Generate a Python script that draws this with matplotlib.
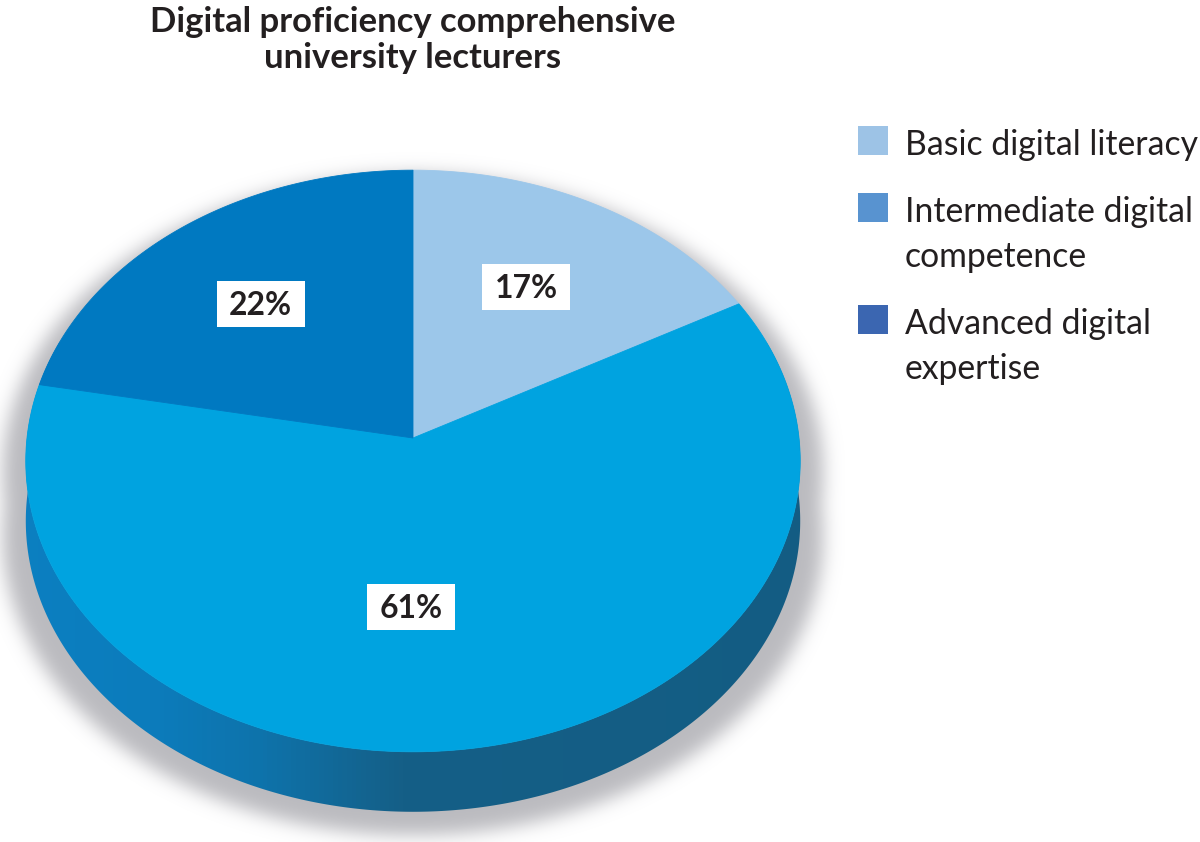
import numpy as np
import matplotlib
matplotlib.use("Agg")
import matplotlib.pyplot as plt
from matplotlib.patches import Polygon, Rectangle
from matplotlib.path import Path
from matplotlib.colors import LinearSegmentedColormap, to_rgb

# ---------------- data ----------------
title_lines = ["Digital proficiency comprehensive", "university lecturers"]
categories = ["Basic digital literacy", "Intermediate digital competence", "Advanced digital expertise"]
legend_lines = [["Basic digital literacy"], ["Intermediate digital", "competence"], ["Advanced digital", "expertise"]]
shares = [17, 61, 22]
value_labels = ["17%", "61%", "22%"]

# ---------------- style ----------------
legend_colors = ["#9dc3e6", "#5893d0", "#3b66b1"]
face_colors = ["#9cc7ea", "#00a3e0", "#0079c1"]
FONT = ["Lato", "DejaVu Sans"]

W, H = 1200, 842
fig = plt.figure(figsize=(12, 8.42), dpi=100)
ax = fig.add_axes([0, 0, 1, 1])
ax.set_xlim(0, W)
ax.set_ylim(H, 0)
ax.axis("off")
renderer = fig.canvas.get_renderer()


def fit_size(text, target_px, weight="normal"):
    t = fig.text(0, 0, text, fontsize=20, fontweight=weight, family=FONT)
    w = t.get_window_extent(renderer).width
    t.remove()
    return 20 * target_px / w


# perspective pie geometry (pixels)
CX, CY, SX, SY, K, DEPTH = 413, 438, 386, 289, 0.079, 60


def proj(r, phi, dy=0.0):
    p = np.radians(phi)
    s, c = np.sin(p), np.cos(p)
    w = 1 + K * r * s
    return CX + SX * r * c / w, CY - SY * r * s / w + dy


fractions = np.array(shares, dtype=float) / sum(shares)
bounds = 90 - 360 * np.concatenate([[0], np.cumsum(fractions)])

# silhouette pieces
all_phi = np.linspace(0, 360, 721)
tx, ty = proj(1, all_phi)
top_xy = np.column_stack([tx, ty])
front = np.linspace(20, -200, 441)
fx, fy = proj(1, front)
bx, by = proj(1, front, DEPTH)
side_xy = np.column_stack([np.concatenate([fx, bx[::-1]]), np.concatenate([fy, by[::-1]])])

# ---------------- shadow ----------------
def shadow_tf(xy):
    out = xy.copy()
    out[:, 0] = CX + (out[:, 0] - CX) * 1.06
    out[:, 1] = CY + 60 + (out[:, 1] - CY - 60) * 1.03 + 14
    return out

gx, gy = np.meshgrid(np.arange(W) + 0.5, np.arange(H) + 0.5)
pts = np.column_stack([gx.ravel(), gy.ravel()])
mask = (Path(shadow_tf(top_xy)).contains_points(pts) |
        Path(shadow_tf(side_xy)).contains_points(pts)).reshape(H, W).astype(float)


def gblur(a, sigma):
    r = int(3 * sigma)
    k = np.exp(-0.5 * (np.arange(-r, r + 1) / sigma) ** 2)
    k /= k.sum()
    a = np.apply_along_axis(lambda v: np.convolve(v, k, mode="same"), 1, a)
    a = np.apply_along_axis(lambda v: np.convolve(v, k, mode="same"), 0, a)
    return a

blur = gblur(mask, 9)
rgba = np.zeros((H, W, 4))
rgba[..., :3] = to_rgb("#a4a4aa")
rgba[..., 3] = 0.75 * blur
ax.imshow(rgba, extent=(0, W, H, 0), origin="upper", aspect="auto",
          interpolation="bilinear", zorder=1)

# ---------------- side (depth) ----------------
side_patch = Polygon(side_xy, closed=True, facecolor="none", edgecolor="none", zorder=2)
ax.add_patch(side_patch)
side_cmap = LinearSegmentedColormap.from_list(
    "side", [(0, "#0b80c2"), (150 / W, "#0c7cbc"), (260 / W, "#0e73ab"),
             (400 / W, "#155f87"), (1, "#125a7f")])
grad = np.linspace(0, 1, W).reshape(1, -1)
im = ax.imshow(grad, cmap=side_cmap, extent=(0, W, H, 0), aspect="auto", zorder=2)
im.set_clip_path(side_patch)

# ---------------- top faces ----------------
for i in range(len(shares)):
    phis = np.linspace(bounds[i], bounds[i + 1], 300)
    x, y = proj(1, phis)
    poly = np.vstack([[CX, CY], np.column_stack([x, y])])
    ax.add_patch(Polygon(poly, closed=True, facecolor=face_colors[i],
                         edgecolor=face_colors[i], lw=0.6, zorder=3))

# ---------------- value labels ----------------
label_nudge = [(0, -8), (-40, -11), (-10, -5)]
lab_fs = fit_size("22%", 63, "bold")
mids = (bounds[:-1] + bounds[1:]) / 2
for i, lab in enumerate(value_labels):
    x, y = proj(0.6, mids[i])
    x += label_nudge[i][0]
    y += label_nudge[i][1]
    ax.add_patch(Rectangle((x - 44, y - 23), 88, 46, facecolor="white",
                           edgecolor="none", zorder=4))
    ax.text(x, y + 11, lab, ha="center", va="baseline", fontsize=lab_fs,
            fontweight="bold", family=FONT, color="#231f20", zorder=5)

# ---------------- title ----------------
title_fs = fit_size(title_lines[0], 526, "bold")
for j, line in enumerate(title_lines):
    ax.text(413, 32 + 36 * j, line, ha="center", va="baseline", fontsize=title_fs,
            fontweight="bold", family=FONT, color="#231f20")

# ---------------- legend ----------------
leg_fs = fit_size(legend_lines[0][0], 293)
item_base = [155, 222, 334]
for i, lines in enumerate(legend_lines):
    b = item_base[i]
    ax.add_patch(Rectangle((858, b - 29), 30, 29, facecolor=legend_colors[i],
                           edgecolor="none"))
    for j, line in enumerate(lines):
        ax.text(905, b + 45 * j, line, ha="left", va="baseline", fontsize=leg_fs,
                family=FONT, color="#231f20")

fig.savefig("out.png", dpi=100)
